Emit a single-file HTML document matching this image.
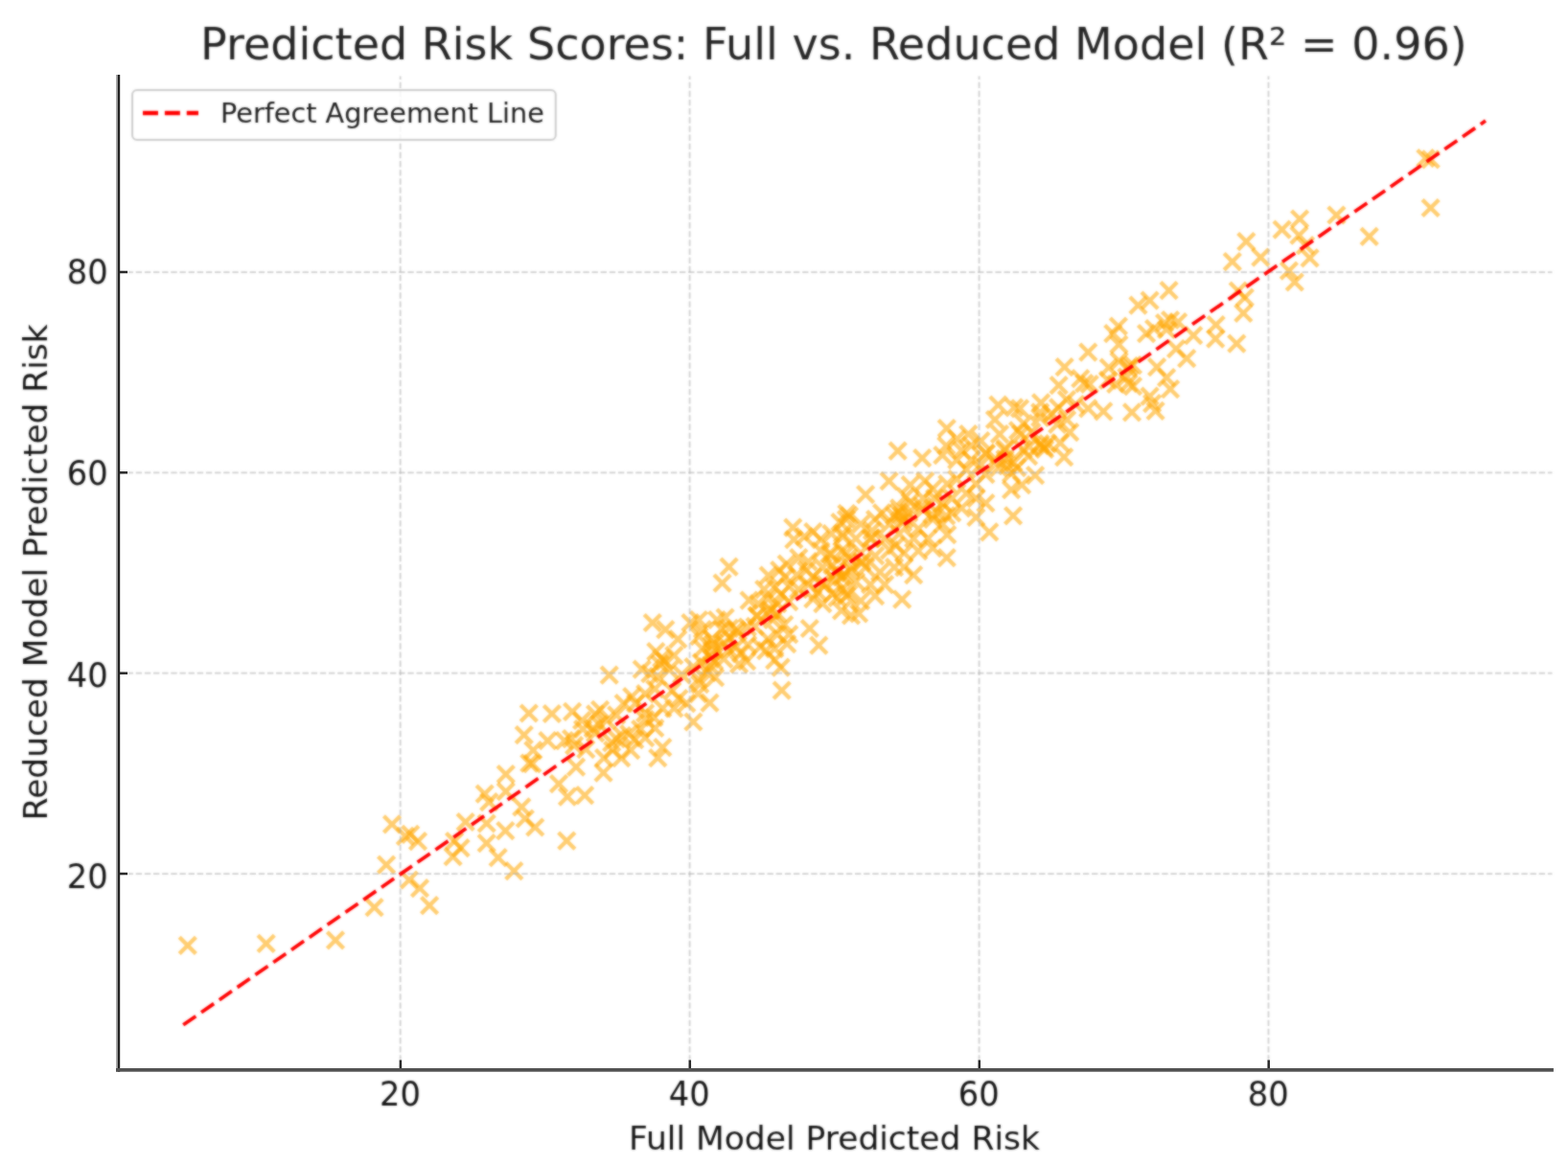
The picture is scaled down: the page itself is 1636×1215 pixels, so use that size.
<!DOCTYPE html>
<html><head><meta charset="utf-8"><title>Predicted Risk Scores</title>
<style>
html,body{margin:0;padding:0;background:#fff;}
svg{display:block;}
text{font-family:"DejaVu Sans","Liberation Sans",sans-serif;}
</style></head><body>
<svg width="1636" height="1215" viewBox="0 0 1636 1215">
<defs>
<path id="x" d="M-8.6,-8.6L8.6,8.6M-8.6,8.6L8.6,-8.6"/>
<filter id="soft" x="0" y="0" width="100%" height="100%" filterUnits="objectBoundingBox" color-interpolation-filters="sRGB">
<feGaussianBlur in="SourceGraphic" stdDeviation="0.85" result="b"/>
<feComposite in="b" in2="SourceGraphic" operator="arithmetic" k1="0" k2="0.7" k3="0.3" k4="0"/>
</filter>
</defs>
<g filter="url(#soft)">
<rect width="1636" height="1215" fill="#ffffff"/>

<g stroke="#ffa500" stroke-opacity="0.56" stroke-width="4.3" fill="none">
<use href="#x" x="195.8" y="986.9"/>
<use href="#x" x="277.7" y="984.8"/>
<use href="#x" x="350.0" y="981.3"/>
<use href="#x" x="390.6" y="947.2"/>
<use href="#x" x="426.9" y="918.5"/>
<use href="#x" x="409.0" y="860.3"/>
<use href="#x" x="422.9" y="872.8"/>
<use href="#x" x="428.2" y="870.9"/>
<use href="#x" x="403.1" y="902.6"/>
<use href="#x" x="551.8" y="744.5"/>
<use href="#x" x="575.9" y="745.0"/>
<use href="#x" x="546.8" y="767.1"/>
<use href="#x" x="571.4" y="773.1"/>
<use href="#x" x="556.3" y="783.1"/>
<use href="#x" x="552.3" y="796.6"/>
<use href="#x" x="555.3" y="797.1"/>
<use href="#x" x="527.8" y="808.2"/>
<use href="#x" x="527.8" y="826.2"/>
<use href="#x" x="505.7" y="828.7"/>
<use href="#x" x="510.2" y="837.2"/>
<use href="#x" x="544.3" y="842.3"/>
<use href="#x" x="485.7" y="858.0"/>
<use href="#x" x="507.7" y="859.5"/>
<use href="#x" x="527.3" y="867.1"/>
<use href="#x" x="507.7" y="880.1"/>
<use href="#x" x="519.7" y="895.1"/>
<use href="#x" x="536.3" y="909.2"/>
<use href="#x" x="558.3" y="863.5"/>
<use href="#x" x="547.8" y="854.5"/>
<use href="#x" x="474.1" y="878.1"/>
<use href="#x" x="480.6" y="885.1"/>
<use href="#x" x="472.6" y="894.1"/>
<use href="#x" x="436.0" y="878.1"/>
<use href="#x" x="438.0" y="927.2"/>
<use href="#x" x="448.1" y="945.2"/>
<use href="#x" x="680.8" y="650.0"/>
<use href="#x" x="694.3" y="657.1"/>
<use href="#x" x="720.4" y="650.0"/>
<use href="#x" x="707.3" y="667.1"/>
<use href="#x" x="729.4" y="664.1"/>
<use href="#x" x="684.3" y="680.1"/>
<use href="#x" x="690.3" y="687.1"/>
<use href="#x" x="693.3" y="690.1"/>
<use href="#x" x="688.3" y="693.1"/>
<use href="#x" x="703.3" y="684.1"/>
<use href="#x" x="669.7" y="698.7"/>
<use href="#x" x="678.3" y="703.2"/>
<use href="#x" x="686.3" y="706.2"/>
<use href="#x" x="698.3" y="699.2"/>
<use href="#x" x="711.3" y="704.2"/>
<use href="#x" x="723.4" y="696.2"/>
<use href="#x" x="635.7" y="704.7"/>
<use href="#x" x="659.2" y="727.2"/>
<use href="#x" x="650.7" y="734.2"/>
<use href="#x" x="663.2" y="734.2"/>
<use href="#x" x="673.2" y="724.2"/>
<use href="#x" x="683.3" y="719.2"/>
<use href="#x" x="701.3" y="721.2"/>
<use href="#x" x="708.3" y="729.2"/>
<use href="#x" x="716.3" y="734.2"/>
<use href="#x" x="703.3" y="739.3"/>
<use href="#x" x="728.4" y="724.2"/>
<use href="#x" x="597.1" y="742.8"/>
<use href="#x" x="626.1" y="740.8"/>
<use href="#x" x="621.1" y="745.3"/>
<use href="#x" x="643.2" y="746.3"/>
<use href="#x" x="673.2" y="744.3"/>
<use href="#x" x="691.3" y="739.3"/>
<use href="#x" x="589.0" y="773.1"/>
<use href="#x" x="596.1" y="771.1"/>
<use href="#x" x="599.1" y="778.1"/>
<use href="#x" x="608.1" y="761.0"/>
<use href="#x" x="607.1" y="752.0"/>
<use href="#x" x="625.1" y="756.0"/>
<use href="#x" x="633.1" y="752.0"/>
<use href="#x" x="621.1" y="765.1"/>
<use href="#x" x="643.2" y="771.1"/>
<use href="#x" x="649.2" y="768.1"/>
<use href="#x" x="656.2" y="766.1"/>
<use href="#x" x="662.2" y="772.1"/>
<use href="#x" x="638.2" y="775.1"/>
<use href="#x" x="668.2" y="761.0"/>
<use href="#x" x="673.2" y="751.0"/>
<use href="#x" x="682.3" y="749.0"/>
<use href="#x" x="683.3" y="760.0"/>
<use href="#x" x="673.2" y="770.1"/>
<use href="#x" x="691.3" y="780.1"/>
<use href="#x" x="686.3" y="791.1"/>
<use href="#x" x="648.2" y="791.1"/>
<use href="#x" x="630.1" y="791.1"/>
<use href="#x" x="639.2" y="783.1"/>
<use href="#x" x="658.2" y="783.1"/>
<use href="#x" x="629.6" y="806.7"/>
<use href="#x" x="601.1" y="800.6"/>
<use href="#x" x="610.1" y="830.2"/>
<use href="#x" x="592.0" y="831.7"/>
<use href="#x" x="583.0" y="818.2"/>
<use href="#x" x="723.4" y="753.5"/>
<use href="#x" x="760.6" y="591.7"/>
<use href="#x" x="753.6" y="608.7"/>
<use href="#x" x="827.3" y="550.6"/>
<use href="#x" x="828.3" y="563.1"/>
<use href="#x" x="839.3" y="560.1"/>
<use href="#x" x="848.3" y="555.1"/>
<use href="#x" x="856.3" y="563.1"/>
<use href="#x" x="867.4" y="557.1"/>
<use href="#x" x="876.4" y="545.0"/>
<use href="#x" x="883.4" y="536.0"/>
<use href="#x" x="879.4" y="560.1"/>
<use href="#x" x="820.7" y="588.6"/>
<use href="#x" x="833.3" y="582.1"/>
<use href="#x" x="843.3" y="586.1"/>
<use href="#x" x="856.3" y="575.1"/>
<use href="#x" x="865.3" y="578.1"/>
<use href="#x" x="878.4" y="575.1"/>
<use href="#x" x="885.4" y="582.1"/>
<use href="#x" x="801.7" y="600.7"/>
<use href="#x" x="813.2" y="595.2"/>
<use href="#x" x="819.2" y="602.2"/>
<use href="#x" x="831.3" y="600.2"/>
<use href="#x" x="841.3" y="595.2"/>
<use href="#x" x="848.3" y="602.2"/>
<use href="#x" x="858.3" y="592.2"/>
<use href="#x" x="868.4" y="590.1"/>
<use href="#x" x="797.2" y="615.2"/>
<use href="#x" x="808.2" y="613.2"/>
<use href="#x" x="815.2" y="620.2"/>
<use href="#x" x="823.2" y="612.2"/>
<use href="#x" x="833.3" y="615.2"/>
<use href="#x" x="843.3" y="610.2"/>
<use href="#x" x="853.3" y="618.2"/>
<use href="#x" x="861.3" y="610.2"/>
<use href="#x" x="871.4" y="605.2"/>
<use href="#x" x="881.4" y="600.2"/>
<use href="#x" x="781.6" y="626.7"/>
<use href="#x" x="791.2" y="630.2"/>
<use href="#x" x="801.2" y="625.2"/>
<use href="#x" x="811.2" y="630.2"/>
<use href="#x" x="823.2" y="628.2"/>
<use href="#x" x="848.3" y="625.2"/>
<use href="#x" x="858.3" y="630.2"/>
<use href="#x" x="868.4" y="620.2"/>
<use href="#x" x="878.4" y="615.2"/>
<use href="#x" x="885.4" y="620.2"/>
<use href="#x" x="815.7" y="720.7"/>
<use href="#x" x="854.3" y="673.6"/>
<use href="#x" x="844.8" y="656.0"/>
<use href="#x" x="814.7" y="696.6"/>
<use href="#x" x="740.5" y="733.7"/>
<use href="#x" x="738.0" y="702.2"/>
<use href="#x" x="746.1" y="707.2"/>
<use href="#x" x="729.0" y="709.2"/>
<use href="#x" x="741.0" y="695.1"/>
<use href="#x" x="753.1" y="657.0"/>
<use href="#x" x="761.1" y="665.1"/>
<use href="#x" x="756.1" y="672.1"/>
<use href="#x" x="768.1" y="675.1"/>
<use href="#x" x="748.1" y="647.0"/>
<use href="#x" x="768.1" y="657.0"/>
<use href="#x" x="743.0" y="667.1"/>
<use href="#x" x="733.0" y="657.0"/>
<use href="#x" x="729.0" y="647.0"/>
<use href="#x" x="733.0" y="677.1"/>
<use href="#x" x="743.0" y="679.1"/>
<use href="#x" x="773.1" y="682.1"/>
<use href="#x" x="779.1" y="690.1"/>
<use href="#x" x="771.1" y="693.1"/>
<use href="#x" x="806.2" y="647.0"/>
<use href="#x" x="818.2" y="652.0"/>
<use href="#x" x="811.2" y="662.1"/>
<use href="#x" x="801.2" y="667.1"/>
<use href="#x" x="793.2" y="675.1"/>
<use href="#x" x="799.2" y="679.1"/>
<use href="#x" x="821.2" y="672.1"/>
<use href="#x" x="808.2" y="677.1"/>
<use href="#x" x="823.2" y="662.1"/>
<use href="#x" x="808.2" y="689.1"/>
<use href="#x" x="756.6" y="644.5"/>
<use href="#x" x="936.7" y="470.6"/>
<use href="#x" x="962.2" y="478.1"/>
<use href="#x" x="987.8" y="447.1"/>
<use href="#x" x="987.3" y="465.1"/>
<use href="#x" x="983.3" y="475.1"/>
<use href="#x" x="927.6" y="502.2"/>
<use href="#x" x="903.1" y="516.2"/>
<use href="#x" x="949.7" y="506.2"/>
<use href="#x" x="949.7" y="524.2"/>
<use href="#x" x="965.2" y="502.2"/>
<use href="#x" x="886.0" y="538.3"/>
<use href="#x" x="920.1" y="535.3"/>
<use href="#x" x="1010.3" y="453.1"/>
<use href="#x" x="998.3" y="458.1"/>
<use href="#x" x="1003.3" y="470.1"/>
<use href="#x" x="1013.3" y="465.1"/>
<use href="#x" x="1023.4" y="460.1"/>
<use href="#x" x="998.3" y="480.1"/>
<use href="#x" x="1013.3" y="480.1"/>
<use href="#x" x="1028.4" y="473.1"/>
<use href="#x" x="1008.3" y="490.2"/>
<use href="#x" x="1023.4" y="485.1"/>
<use href="#x" x="938.2" y="530.3"/>
<use href="#x" x="948.2" y="535.3"/>
<use href="#x" x="933.1" y="538.3"/>
<use href="#x" x="978.3" y="535.3"/>
<use href="#x" x="983.3" y="525.2"/>
<use href="#x" x="973.2" y="510.2"/>
<use href="#x" x="988.3" y="505.2"/>
<use href="#x" x="998.3" y="500.2"/>
<use href="#x" x="963.2" y="520.2"/>
<use href="#x" x="993.3" y="520.2"/>
<use href="#x" x="1003.3" y="530.3"/>
<use href="#x" x="1018.4" y="505.2"/>
<use href="#x" x="1028.4" y="495.2"/>
<use href="#x" x="1018.4" y="520.2"/>
<use href="#x" x="1028.4" y="525.2"/>
<use href="#x" x="1008.3" y="515.2"/>
<use href="#x" x="993.3" y="535.3"/>
<use href="#x" x="941.2" y="625.7"/>
<use href="#x" x="987.8" y="582.1"/>
<use href="#x" x="953.2" y="600.2"/>
<use href="#x" x="988.3" y="558.1"/>
<use href="#x" x="896.1" y="640.3"/>
<use href="#x" x="1018.4" y="540.0"/>
<use href="#x" x="883.0" y="542.0"/>
<use href="#x" x="898.1" y="547.0"/>
<use href="#x" x="913.1" y="542.0"/>
<use href="#x" x="928.1" y="547.0"/>
<use href="#x" x="943.2" y="542.0"/>
<use href="#x" x="958.2" y="552.0"/>
<use href="#x" x="973.2" y="542.0"/>
<use href="#x" x="983.3" y="547.0"/>
<use href="#x" x="968.2" y="562.1"/>
<use href="#x" x="953.2" y="562.1"/>
<use href="#x" x="938.2" y="557.1"/>
<use href="#x" x="923.1" y="562.1"/>
<use href="#x" x="908.1" y="562.1"/>
<use href="#x" x="893.0" y="562.1"/>
<use href="#x" x="879.0" y="557.1"/>
<use href="#x" x="883.0" y="577.1"/>
<use href="#x" x="898.1" y="577.1"/>
<use href="#x" x="913.1" y="580.1"/>
<use href="#x" x="928.1" y="574.1"/>
<use href="#x" x="943.2" y="577.1"/>
<use href="#x" x="958.2" y="575.1"/>
<use href="#x" x="973.2" y="572.1"/>
<use href="#x" x="933.1" y="592.1"/>
<use href="#x" x="918.1" y="597.2"/>
<use href="#x" x="903.1" y="592.1"/>
<use href="#x" x="888.0" y="592.1"/>
<use href="#x" x="878.0" y="602.2"/>
<use href="#x" x="893.0" y="607.2"/>
<use href="#x" x="908.1" y="610.2"/>
<use href="#x" x="923.1" y="610.2"/>
<use href="#x" x="883.0" y="622.2"/>
<use href="#x" x="898.1" y="627.2"/>
<use href="#x" x="913.1" y="622.2"/>
<use href="#x" x="878.0" y="637.3"/>
<use href="#x" x="888.0" y="642.3"/>
<use href="#x" x="943.2" y="592.1"/>
<use href="#x" x="1166.9" y="340.5"/>
<use href="#x" x="1161.3" y="348.1"/>
<use href="#x" x="1167.4" y="359.6"/>
<use href="#x" x="1135.3" y="367.6"/>
<use href="#x" x="1110.7" y="383.2"/>
<use href="#x" x="1127.3" y="395.2"/>
<use href="#x" x="1131.3" y="400.2"/>
<use href="#x" x="1104.7" y="402.2"/>
<use href="#x" x="1156.8" y="383.7"/>
<use href="#x" x="1178.4" y="382.1"/>
<use href="#x" x="1177.4" y="400.2"/>
<use href="#x" x="1041.5" y="422.7"/>
<use href="#x" x="1058.1" y="425.3"/>
<use href="#x" x="1064.1" y="426.3"/>
<use href="#x" x="1085.2" y="430.3"/>
<use href="#x" x="1104.2" y="425.3"/>
<use href="#x" x="1122.2" y="422.2"/>
<use href="#x" x="1135.3" y="426.3"/>
<use href="#x" x="1151.3" y="429.3"/>
<use href="#x" x="1057.1" y="538.3"/>
<use href="#x" x="1110.2" y="477.1"/>
<use href="#x" x="1116.2" y="451.1"/>
<use href="#x" x="1080.1" y="496.2"/>
<use href="#x" x="1055.1" y="511.2"/>
<use href="#x" x="1085.2" y="465.1"/>
<use href="#x" x="1089.2" y="467.1"/>
<use href="#x" x="1093.2" y="463.1"/>
<use href="#x" x="1051.1" y="486.1"/>
<use href="#x" x="1055.1" y="494.2"/>
<use href="#x" x="1061.1" y="488.1"/>
<use href="#x" x="1043.0" y="453.1"/>
<use href="#x" x="1065.1" y="453.1"/>
<use href="#x" x="1038.0" y="438.0"/>
<use href="#x" x="1085.2" y="436.0"/>
<use href="#x" x="1113.2" y="438.0"/>
<use href="#x" x="1029.0" y="473.1"/>
<use href="#x" x="1066.1" y="506.2"/>
<use href="#x" x="1032.3" y="555.3"/>
<use href="#x" x="1073.1" y="476.1"/>
<use href="#x" x="1048.1" y="470.1"/>
<use href="#x" x="1103.2" y="443.0"/>
<use href="#x" x="1068.1" y="442.0"/>
<use href="#x" x="1300.3" y="252.1"/>
<use href="#x" x="1285.8" y="273.1"/>
<use href="#x" x="1315.3" y="268.6"/>
<use href="#x" x="1219.6" y="303.2"/>
<use href="#x" x="1187.5" y="318.7"/>
<use href="#x" x="1199.6" y="313.7"/>
<use href="#x" x="1291.8" y="303.7"/>
<use href="#x" x="1298.8" y="310.7"/>
<use href="#x" x="1297.3" y="326.8"/>
<use href="#x" x="1290.3" y="358.6"/>
<use href="#x" x="1268.7" y="339.0"/>
<use href="#x" x="1268.2" y="353.6"/>
<use href="#x" x="1245.2" y="350.1"/>
<use href="#x" x="1238.2" y="374.1"/>
<use href="#x" x="1227.1" y="364.1"/>
<use href="#x" x="1207.1" y="383.1"/>
<use href="#x" x="1217.1" y="394.2"/>
<use href="#x" x="1221.1" y="406.2"/>
<use href="#x" x="1199.6" y="413.7"/>
<use href="#x" x="1205.6" y="428.8"/>
<use href="#x" x="1202.1" y="421.2"/>
<use href="#x" x="1181.0" y="430.3"/>
<use href="#x" x="1182.0" y="403.2"/>
<use href="#x" x="1196.1" y="348.1"/>
<use href="#x" x="1204.1" y="343.0"/>
<use href="#x" x="1215.1" y="337.0"/>
<use href="#x" x="1221.1" y="334.0"/>
<use href="#x" x="1229.1" y="336.0"/>
<use href="#x" x="1217.1" y="344.0"/>
<use href="#x" x="1182.0" y="381.1"/>
<use href="#x" x="1487.4" y="165.1"/>
<use href="#x" x="1492.7" y="166.4"/>
<use href="#x" x="1492.7" y="217.0"/>
<use href="#x" x="1428.7" y="246.9"/>
<use href="#x" x="1394.4" y="224.5"/>
<use href="#x" x="1356.1" y="228.5"/>
<use href="#x" x="1355.4" y="245.6"/>
<use href="#x" x="1337.6" y="239.7"/>
<use href="#x" x="1366.6" y="269.4"/>
<use href="#x" x="1362.0" y="256.2"/>
<use href="#x" x="1344.9" y="282.6"/>
<use href="#x" x="1350.8" y="294.5"/>
<use href="#x" x="591.3" y="877.7"/>
<use href="#x" x="1085.5" y="463.0"/>
<use href="#x" x="1090.0" y="469.0"/>
<use href="#x" x="611.3" y="782.2"/>
<use href="#x" x="618.8" y="760.4"/>
<use href="#x" x="745.0" y="671.3"/>
<use href="#x" x="730.3" y="714.2"/>
<use href="#x" x="769.9" y="659.2"/>
<use href="#x" x="745.2" y="690.1"/>
<use href="#x" x="742.7" y="673.7"/>
<use href="#x" x="755.2" y="687.8"/>
<use href="#x" x="779.8" y="654.6"/>
<use href="#x" x="761.1" y="655.9"/>
<use href="#x" x="740.8" y="684.8"/>
<use href="#x" x="760.6" y="678.1"/>
<use href="#x" x="731.8" y="691.7"/>
<use href="#x" x="803.3" y="637.1"/>
<use href="#x" x="811.5" y="640.6"/>
<use href="#x" x="804.8" y="636.9"/>
<use href="#x" x="789.6" y="642.9"/>
<use href="#x" x="790.0" y="642.6"/>
<use href="#x" x="780.2" y="673.1"/>
<use href="#x" x="787.7" y="653.9"/>
<use href="#x" x="874.0" y="596.5"/>
<use href="#x" x="872.4" y="597.8"/>
<use href="#x" x="867.1" y="578.7"/>
<use href="#x" x="857.1" y="609.0"/>
<use href="#x" x="873.6" y="623.9"/>
<use href="#x" x="909.9" y="553.9"/>
<use href="#x" x="899.4" y="586.0"/>
<use href="#x" x="887.5" y="595.8"/>
<use href="#x" x="899.0" y="587.6"/>
<use href="#x" x="909.5" y="561.5"/>
<use href="#x" x="961.9" y="528.1"/>
<use href="#x" x="937.5" y="534.8"/>
<use href="#x" x="942.0" y="545.6"/>
<use href="#x" x="934.8" y="569.4"/>
<use href="#x" x="940.8" y="538.1"/>
<use href="#x" x="945.0" y="518.4"/>
<use href="#x" x="963.1" y="532.3"/>
<use href="#x" x="972.3" y="537.0"/>
<use href="#x" x="975.2" y="520.2"/>
<use href="#x" x="987.3" y="538.3"/>
<use href="#x" x="1076.4" y="450.8"/>
<use href="#x" x="1039.0" y="479.3"/>
<use href="#x" x="1062.1" y="449.4"/>
<use href="#x" x="1048.8" y="468.0"/>
<use href="#x" x="1042.0" y="488.1"/>
<use href="#x" x="1073.8" y="466.2"/>
<use href="#x" x="1057.4" y="483.0"/>
<use href="#x" x="1067.6" y="469.3"/>
<use href="#x" x="1048.6" y="479.2"/>
<use href="#x" x="1086.1" y="420.3"/>
<use href="#x" x="1112.9" y="417.1"/>
<use href="#x" x="1106.2" y="462.3"/>
<use href="#x" x="1097.2" y="431.8"/>
<use href="#x" x="1164.2" y="401.0"/>
<use href="#x" x="1156.0" y="396.9"/>
<use href="#x" x="1175.5" y="393.5"/>
<use href="#x" x="1176.7" y="384.3"/>
<use href="#x" x="1167.6" y="376.9"/>
<use href="#x" x="1136.8" y="401.0"/>
</g>
<g stroke="#b0b0b0" stroke-opacity="0.62" stroke-width="1.75" stroke-dasharray="6.39,2.76" fill="none">
<line x1="417.7" y1="1116.85" x2="417.7" y2="79.4"/>
<line x1="123.4" y1="912.0" x2="1619.5" y2="912.0"/>
<line x1="719.6" y1="1116.85" x2="719.6" y2="79.4"/>
<line x1="123.4" y1="702.7" x2="1619.5" y2="702.7"/>
<line x1="1021.6" y1="1116.85" x2="1021.6" y2="79.4"/>
<line x1="123.4" y1="493.3" x2="1619.5" y2="493.3"/>
<line x1="1323.5" y1="1116.85" x2="1323.5" y2="79.4"/>
<line x1="123.4" y1="284.0" x2="1619.5" y2="284.0"/>
</g>
<line x1="191.2" y1="1069.8" x2="1550.0" y2="126.1" stroke="#ff0000" stroke-width="3.7" stroke-dasharray="15.98,6.91"/>
<g font-size="34.25" fill="#151515">
<text transform="translate(417.4,1153.8) scale(0.985,1.03)" text-anchor="middle">20</text>
<text transform="translate(112.7,926.7) scale(0.985,1.03)" text-anchor="end">20</text>
<text transform="translate(719.3,1153.8) scale(0.985,1.03)" text-anchor="middle">40</text>
<text transform="translate(112.7,716.5) scale(0.985,1.03)" text-anchor="end">40</text>
<text transform="translate(1021.3,1153.8) scale(0.985,1.03)" text-anchor="middle">60</text>
<text transform="translate(112.7,506.2) scale(0.985,1.03)" text-anchor="end">60</text>
<text transform="translate(1323.2,1153.8) scale(0.985,1.03)" text-anchor="middle">80</text>
<text transform="translate(112.7,296.0) scale(0.985,1.03)" text-anchor="end">80</text>
</g>
<text x="870.5" y="1199.5" font-size="34.5" fill="#151515" text-anchor="middle">Full Model Predicted Risk</text>
<text transform="translate(48.6,597.3) rotate(-90)" font-size="34.4" fill="#151515" text-anchor="middle">Reduced Model Predicted Risk</text>
<text x="869.9" y="62" font-size="46.05" fill="#262626" text-anchor="middle">Predicted Risk Scores: Full vs. Reduced Model (R² = 0.96)</text>
<rect x="138" y="94" width="441.8" height="52" rx="5" ry="5" fill="#ffffff" fill-opacity="0.8" stroke="#cccccc" stroke-width="2"/>
<line x1="149" y1="118" x2="207" y2="118" stroke="#ff0000" stroke-width="4.3" stroke-dasharray="15.98,6.91"/>
<text x="230" y="128" font-size="28.7" fill="#202020">Perfect Agreement Line</text>
</g>
<rect x="121.2" y="78.0" width="1.8" height="1040.70" fill="#949494"/>
<rect x="123" y="78.0" width="2.2" height="1040.70" fill="#222222"/>
<rect x="121" y="1115.00" width="1499.9" height="3.7" fill="#525252"/>
<g stroke="#2a2a2a" stroke-width="2.5">
<line x1="417.9" y1="1115.0" x2="417.9" y2="1106.5"/>
<line x1="125" y1="912.0" x2="133.0" y2="912.0"/>
<line x1="719.8" y1="1115.0" x2="719.8" y2="1106.5"/>
<line x1="125" y1="702.7" x2="133.0" y2="702.7"/>
<line x1="1021.8" y1="1115.0" x2="1021.8" y2="1106.5"/>
<line x1="125" y1="493.3" x2="133.0" y2="493.3"/>
<line x1="1323.7" y1="1115.0" x2="1323.7" y2="1106.5"/>
<line x1="125" y1="284.0" x2="133.0" y2="284.0"/>
</g>
</svg></body></html>
